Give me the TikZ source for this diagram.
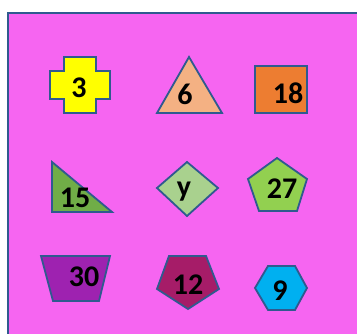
\documentclass[tikz,border=0pt]{standalone}
\usepackage{fontspec}
\setmainfont{Carlito}
\usepackage{xcolor}
\usepackage{tikz}
\usetikzlibrary{positioning}

\definecolor{bgpink}{HTML}{F665F1}
\definecolor{edgeblue}{HTML}{2F5A8F}
\definecolor{crossyellow}{HTML}{FFFF00}
\definecolor{peach}{HTML}{F4B183}
\definecolor{orangebox}{HTML}{ED7D31}
\definecolor{darkgreen}{HTML}{70AD47}
\definecolor{palegreen}{HTML}{A9D18E}
\definecolor{limegreen}{HTML}{92D050}
\definecolor{violet}{HTML}{9E22B0}
\definecolor{plum}{HTML}{A61C68}
\definecolor{skyblue}{HTML}{00B0F0}

\begin{document}
\begin{tikzpicture}[
    x=1pt, y=-1pt,
    figure/.style={draw=edgeblue, line width=1.8pt, line join=miter},
    num/.style={font=\bfseries\fontsize{30}{30}\selectfont, text=black, inner sep=0pt}
]
    \useasboundingbox (0,0) rectangle (357,334);

    % Background panel
    \fill[bgpink] (8,13) rectangle (357,334);
    \draw[edgeblue, line width=1.8pt] (8,334) -- (8,13) -- (357,13);

    % Row 1
    \draw[figure, fill=crossyellow] (64,57) -- (96,57) -- (96,71) -- (110,71) -- (110,99)
        -- (96,99) -- (96,113) -- (64,113) -- (64,99) -- (50,99) -- (50,71) -- (64,71) -- cycle;
    \node[num] (three) at (79,88) {3};

    \draw[figure, fill=peach] (189,57) -- (222,113) -- (157,113) -- cycle;
    \node[num] (six) at (185,94) {6};

    \draw[figure, fill=orangebox] (255,66) rectangle (307,113);
    \node[num] (eighteen) at (288,93) {18};

    % Row 2
    \draw[figure, fill=darkgreen] (52,162) -- (112,212) -- (52,212) -- cycle;
    \node[num] (fifteen) at (75,198) {15};

    \draw[figure, fill=palegreen] (187,162) -- (218,188) -- (187,216) -- (157,188) -- cycle;
    \node[num] (why) at (184,192) {y};

    \draw[figure, fill=limegreen] (277,158) -- (307,179) -- (297,211) -- (259,211) -- (248,179) -- cycle;
    \node[num] (twentyseven) at (282,189) {27};

    % Row 3
    \draw[figure, fill=violet] (41,256) -- (110,256) -- (99,301) -- (53,301) -- cycle;
    \node[num] (thirty) at (84,277) {30};

    \draw[figure, fill=plum] (169,256) -- (206,256) -- (219,289) -- (188,309) -- (157,289) -- cycle;
    \node[num] (twelve) at (188,285) {12};

    \draw[figure, fill=skyblue] (268,266) -- (295,266) -- (307,288) -- (295,310) -- (268,310) -- (255,288) -- cycle;
    \node[num] (nine) at (280,291) {9};
\end{tikzpicture}
\end{document}
